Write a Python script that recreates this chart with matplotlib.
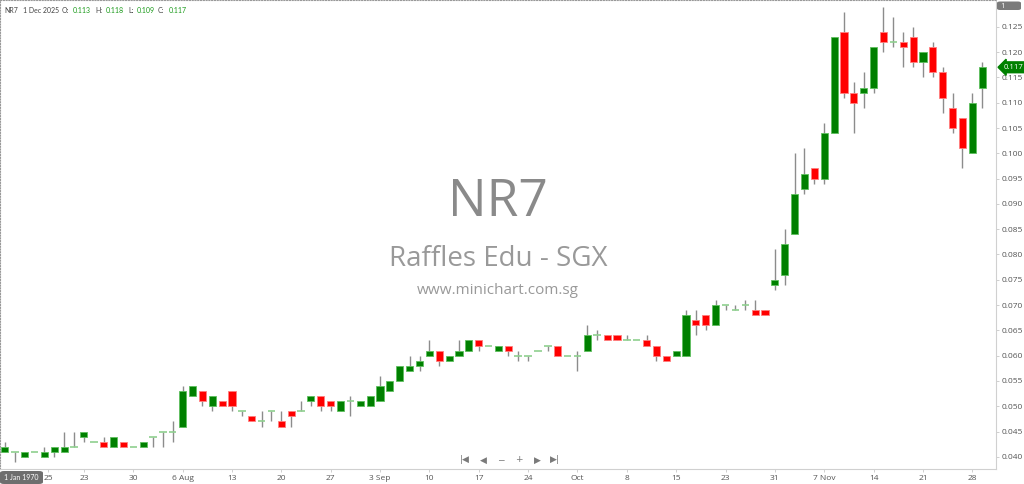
import matplotlib
matplotlib.use('Agg')
import matplotlib.pyplot as plt
from matplotlib.patches import FancyBboxPatch

plt.rcParams['font.family'] = ['Open Sans', 'DejaVu Sans']

opens = [0.041, 0.041, 0.040, 0.041, 0.040, 0.041, 0.041, 0.042, 0.044, 0.043,
         0.043, 0.042, 0.043, 0.042, 0.042, 0.044, 0.045, 0.045, 0.046, 0.052,
         0.053, 0.050, 0.051, 0.053, 0.049, 0.048, 0.047, 0.049, 0.047, 0.049,
         0.049, 0.051, 0.052, 0.051, 0.049, 0.051, 0.050, 0.050, 0.051, 0.053,
         0.055, 0.057, 0.058, 0.060, 0.061, 0.059, 0.060, 0.061, 0.063, 0.062,
         0.061, 0.062, 0.060, 0.060, 0.061, 0.062, 0.062, 0.060, 0.060, 0.061,
         0.064, 0.064, 0.064, 0.063, 0.063, 0.063, 0.062, 0.060, 0.060, 0.060,
         0.067, 0.068, 0.066, 0.070, 0.069, 0.070, 0.069, 0.069, 0.074, 0.076,
         0.084, 0.093, 0.097, 0.095, 0.104, 0.124, 0.112, 0.112, 0.113, 0.124,
         0.122, 0.122, 0.123, 0.118, 0.121, 0.116, 0.109, 0.107, 0.100, 0.113]
highs = [0.043, 0.041, 0.041, 0.041, 0.042, 0.042, 0.045, 0.045, 0.045, 0.043,
         0.044, 0.044, 0.043, 0.042, 0.043, 0.044, 0.045, 0.047, 0.054, 0.054,
         0.053, 0.052, 0.051, 0.053, 0.049, 0.048, 0.049, 0.049, 0.049, 0.049,
         0.051, 0.052, 0.052, 0.051, 0.051, 0.052, 0.051, 0.052, 0.056, 0.055,
         0.058, 0.060, 0.060, 0.063, 0.061, 0.060, 0.063, 0.063, 0.063, 0.062,
         0.062, 0.062, 0.061, 0.060, 0.061, 0.062, 0.062, 0.060, 0.061, 0.066,
         0.065, 0.064, 0.064, 0.064, 0.063, 0.064, 0.062, 0.060, 0.061, 0.069,
         0.069, 0.068, 0.071, 0.070, 0.070, 0.071, 0.071, 0.069, 0.081, 0.085,
         0.100, 0.101, 0.097, 0.106, 0.123, 0.128, 0.114, 0.116, 0.121, 0.129,
         0.127, 0.124, 0.125, 0.120, 0.122, 0.117, 0.112, 0.107, 0.112, 0.118]
lows = [0.041, 0.039, 0.040, 0.041, 0.040, 0.040, 0.041, 0.042, 0.043, 0.043,
        0.042, 0.042, 0.042, 0.042, 0.042, 0.042, 0.042, 0.043, 0.046, 0.052,
        0.050, 0.049, 0.050, 0.049, 0.048, 0.047, 0.046, 0.047, 0.046, 0.046,
        0.049, 0.050, 0.049, 0.049, 0.049, 0.048, 0.050, 0.050, 0.051, 0.053,
        0.055, 0.057, 0.057, 0.060, 0.058, 0.059, 0.060, 0.061, 0.061, 0.062,
        0.061, 0.060, 0.059, 0.059, 0.061, 0.061, 0.060, 0.060, 0.057, 0.061,
        0.063, 0.063, 0.063, 0.063, 0.063, 0.062, 0.059, 0.059, 0.060, 0.060,
        0.064, 0.065, 0.066, 0.069, 0.069, 0.069, 0.068, 0.068, 0.073, 0.074,
        0.084, 0.092, 0.094, 0.094, 0.104, 0.111, 0.104, 0.109, 0.112, 0.120,
        0.121, 0.117, 0.117, 0.115, 0.115, 0.108, 0.104, 0.097, 0.100, 0.109]
closes = [0.042, 0.041, 0.041, 0.041, 0.041, 0.042, 0.042, 0.042, 0.045, 0.043,
          0.042, 0.044, 0.042, 0.042, 0.043, 0.044, 0.045, 0.045, 0.053, 0.054,
          0.051, 0.052, 0.050, 0.050, 0.049, 0.047, 0.047, 0.049, 0.046, 0.048,
          0.049, 0.052, 0.050, 0.050, 0.051, 0.051, 0.051, 0.052, 0.054, 0.055,
          0.058, 0.058, 0.059, 0.061, 0.059, 0.060, 0.061, 0.063, 0.062, 0.062,
          0.062, 0.061, 0.060, 0.060, 0.061, 0.062, 0.060, 0.060, 0.060, 0.064,
          0.064, 0.063, 0.063, 0.063, 0.063, 0.062, 0.060, 0.059, 0.061, 0.068,
          0.066, 0.066, 0.070, 0.070, 0.069, 0.070, 0.068, 0.068, 0.075, 0.082,
          0.092, 0.096, 0.095, 0.104, 0.123, 0.112, 0.110, 0.113, 0.121, 0.122,
          0.122, 0.121, 0.118, 0.120, 0.116, 0.111, 0.105, 0.101, 0.110, 0.117]

tick_idx = [4.35, 8, 13, 18, 23, 28, 33, 38, 43, 48, 53, 58, 63, 68, 73, 78, 83, 88, 93, 98]
tick_labels = ['25', '23', '30', '6 Aug', '13', '20', '27', '3 Sep', '10', '17', '24',
               'Oct', '8', '15', '23', '31', '7 Nov', '14', '21', '28']
y_ticks = [0.040, 0.045, 0.050, 0.055, 0.060, 0.065, 0.070, 0.075, 0.080, 0.085,
           0.090, 0.095, 0.100, 0.105, 0.110, 0.115, 0.120, 0.125]

UP = '#008000'
UP_EDGE = '#5fbf5f'
DOWN = '#ff0000'
DOWN_EDGE = '#ff8080'
DOJI = '#8fcf8f'
WICK = '#8c8c8c'


def main():
    fig = plt.figure(figsize=(10.24, 4.84), dpi=100)
    ax = fig.add_axes([0, 15 / 484, 996 / 1024, 469 / 484])

    xs = list(range(len(opens)))
    ax.vlines(xs, lows, highs, color=WICK, linewidth=1, zorder=1)

    for i in xs:
        o, c = opens[i], closes[i]
        if abs(c - o) < 1e-9:
            ax.hlines(o, i - 0.38, i + 0.38, color=DOJI, linewidth=1.2, zorder=2)
        else:
            up = c > o
            ax.bar(i, abs(c - o), bottom=min(o, c), width=0.72,
                   color=UP if up else DOWN, edgecolor=UP_EDGE if up else DOWN_EDGE,
                   linewidth=0.6, zorder=2)

    ax.set_xlim(-0.5, 100.4)
    ax.set_ylim(0.0376, 0.1303)

    ax.yaxis.tick_right()
    ax.set_yticks(y_ticks)
    ax.set_yticklabels(['%.3f' % v for v in y_ticks])
    ax.set_xticks(tick_idx)
    ax.set_xticklabels(tick_labels)
    ax.tick_params(axis='both', labelsize=6, colors='#c8c8c8', labelcolor='#555555',
                   length=2, width=0.6, pad=2)

    for side in ['left', 'top']:
        ax.spines[side].set_linestyle((0, (1, 1.5)))
        ax.spines[side].set_color('#999999')
        ax.spines[side].set_linewidth(0.8)
    for side in ['right', 'bottom']:
        ax.spines[side].set_color('#d0d0d0')
        ax.spines[side].set_linewidth(0.8)

    # watermark
    ax.text(0.5, 1 - 202 / 469, 'NR7', transform=ax.transAxes, ha='center', va='center',
            fontsize=37, color='#8a8a8a', zorder=0)
    ax.text(0.5, 1 - 259 / 469, 'Raffles Edu - SGX', transform=ax.transAxes, ha='center',
            va='center', fontsize=20, color='#999999', zorder=0)
    ax.text(0.5, 1 - 291 / 469, 'www.minichart.com.sg', transform=ax.transAxes, ha='center',
            va='center', fontsize=11, color='#999999', zorder=0)

    # header
    y_h = 1 - 10.5 / 484
    hfont = dict(fontsize=5, va='center', family=['Lato', 'DejaVu Sans'])
    fig.text(4 / 1024, y_h, 'NR7', color='#444444', **hfont)
    fig.text(23 / 1024, y_h, '1 Dec 2025', color='#444444', **hfont)
    parts = [('O:', 62), ('H:', 95), ('L:', 128), ('C:', 158)]
    vals = [('%.3f' % opens[-1], 73), ('%.3f' % highs[-1], 106), ('%.3f' % lows[-1], 137),
            ('%.3f' % closes[-1], 169)]
    for (lab, x), (v, xv) in zip(parts, vals):
        fig.text(x / 1024, y_h, lab, color='#444444', **hfont)
        fig.text(xv / 1024, y_h, v, color='#1a9a1a', **hfont)

    # last price tag
    ax.annotate('%.3f' % closes[-1], xy=(1, closes[-1]), xycoords=('axes fraction', 'data'),
                xytext=(8, 0), textcoords='offset pixels', fontsize=5.5, color='white',
                va='center', ha='left', annotation_clip=False,
                bbox=dict(boxstyle='larrow,pad=0.25', fc=UP, ec=UP))

    # top right "1" box
    fig.patches.append(FancyBboxPatch((997 / 1024, 1 - 10 / 484), 24 / 1024, 8.5 / 484,
                                      boxstyle='round,pad=0,rounding_size=0.003',
                                      fc='#7a7a7a', ec='none', transform=fig.transFigure))
    fig.text(1000 / 1024, 1 - 6 / 484, '1', fontsize=5.5, color='white', va='center')

    # date box bottom left
    fig.patches.append(FancyBboxPatch((0, 0), 43 / 1024, 13 / 484,
                                      boxstyle='round,pad=0,rounding_size=0.004',
                                      fc='#6e6e6e', ec='none', transform=fig.transFigure))
    fig.text(21 / 1024, 6.5 / 484, '1 Jan 1970', fontsize=5, color='white',
             ha='center', va='center', family=['Lato', 'DejaVu Sans'])

    # navigation buttons
    nav = [('|◀', 465), ('◀', 483), ('−', 501), ('+', 519), ('▶', 537), ('▶|', 555)]
    for s, x in nav:
        fig.text(x / 1024, 1 - 460 / 484, s, fontsize=6.5, color='#7a7a7a',
                 ha='center', va='center', family=['DejaVu Sans'])

    fig.savefig('out.png', dpi=100)


if __name__ == "__main__":
    main()
